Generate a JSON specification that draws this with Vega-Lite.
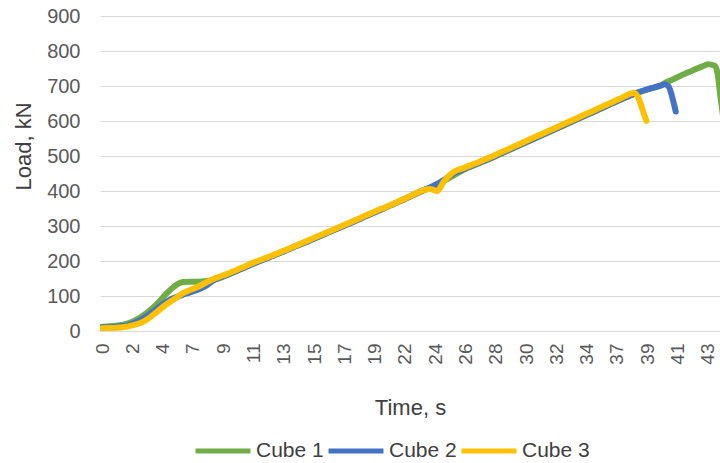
{
  "$schema": "https://vega.github.io/schema/vega-lite/v6.json",
  "width": 620,
  "height": 315,
  "autosize": "none",
  "padding": {"left": 100, "top": 16, "right": 0, "bottom": 132},
  "background": "white",
  "config": {"view": {"stroke": null}, "font": "Liberation Sans"},
  "data": {
    "values": [
      {"series": "Cube 1", "t": 0, "load": 12}, {"series": "Cube 1", "t": 1, "load": 15}, {"series": "Cube 1", "t": 1.8, "load": 21}, {"series": "Cube 1", "t": 2.7, "load": 38}, {"series": "Cube 1", "t": 3.3, "load": 55}, {"series": "Cube 1", "t": 3.9, "load": 76}, {"series": "Cube 1", "t": 4.4, "load": 98}, {"series": "Cube 1", "t": 4.9, "load": 118}, {"series": "Cube 1", "t": 5.4, "load": 134}, {"series": "Cube 1", "t": 5.8, "load": 140}, {"series": "Cube 1", "t": 6.3, "load": 141}, {"series": "Cube 1", "t": 6.8, "load": 141}, {"series": "Cube 1", "t": 7.4, "load": 142}, {"series": "Cube 1", "t": 8, "load": 146}, {"series": "Cube 1", "t": 9, "load": 161}, {"series": "Cube 1", "t": 10, "load": 178}, {"series": "Cube 1", "t": 11, "load": 195}, {"series": "Cube 1", "t": 12, "load": 211}, {"series": "Cube 1", "t": 13, "load": 227}, {"series": "Cube 1", "t": 14, "load": 244}, {"series": "Cube 1", "t": 15, "load": 261}, {"series": "Cube 1", "t": 16, "load": 278}, {"series": "Cube 1", "t": 17, "load": 295}, {"series": "Cube 1", "t": 18, "load": 312}, {"series": "Cube 1", "t": 19, "load": 330}, {"series": "Cube 1", "t": 20, "load": 347}, {"series": "Cube 1", "t": 21, "load": 365}, {"series": "Cube 1", "t": 22, "load": 383}, {"series": "Cube 1", "t": 23, "load": 401}, {"series": "Cube 1", "t": 24, "load": 418}, {"series": "Cube 1", "t": 25, "load": 440}, {"series": "Cube 1", "t": 26, "load": 463}, {"series": "Cube 1", "t": 27, "load": 479}, {"series": "Cube 1", "t": 28, "load": 496}, {"series": "Cube 1", "t": 29, "load": 514}, {"series": "Cube 1", "t": 30, "load": 532}, {"series": "Cube 1", "t": 31, "load": 550}, {"series": "Cube 1", "t": 32, "load": 568}, {"series": "Cube 1", "t": 33, "load": 586}, {"series": "Cube 1", "t": 34, "load": 604}, {"series": "Cube 1", "t": 35, "load": 622}, {"series": "Cube 1", "t": 36, "load": 640}, {"series": "Cube 1", "t": 37, "load": 658}, {"series": "Cube 1", "t": 38, "load": 675}, {"series": "Cube 1", "t": 39, "load": 689}, {"series": "Cube 1", "t": 40, "load": 701}, {"series": "Cube 1", "t": 40.5, "load": 712}, {"series": "Cube 1", "t": 41, "load": 721}, {"series": "Cube 1", "t": 42, "load": 739}, {"series": "Cube 1", "t": 43, "load": 756}, {"series": "Cube 1", "t": 43.4, "load": 762}, {"series": "Cube 1", "t": 43.9, "load": 758}, {"series": "Cube 1", "t": 44.1, "load": 735}, {"series": "Cube 1", "t": 44.3, "load": 670}, {"series": "Cube 1", "t": 44.5, "load": 610},
      {"series": "Cube 2", "t": 0, "load": 10}, {"series": "Cube 2", "t": 1, "load": 12}, {"series": "Cube 2", "t": 1.8, "load": 16}, {"series": "Cube 2", "t": 2.7, "load": 30}, {"series": "Cube 2", "t": 3.3, "load": 45}, {"series": "Cube 2", "t": 3.9, "load": 63}, {"series": "Cube 2", "t": 4.4, "load": 78}, {"series": "Cube 2", "t": 4.9, "load": 90}, {"series": "Cube 2", "t": 5.4, "load": 98}, {"series": "Cube 2", "t": 5.8, "load": 104}, {"series": "Cube 2", "t": 6.3, "load": 110}, {"series": "Cube 2", "t": 6.8, "load": 117}, {"series": "Cube 2", "t": 7.4, "load": 128}, {"series": "Cube 2", "t": 8, "load": 145}, {"series": "Cube 2", "t": 9, "load": 161}, {"series": "Cube 2", "t": 10, "load": 178}, {"series": "Cube 2", "t": 11, "load": 195}, {"series": "Cube 2", "t": 12, "load": 211}, {"series": "Cube 2", "t": 13, "load": 227}, {"series": "Cube 2", "t": 14, "load": 244}, {"series": "Cube 2", "t": 15, "load": 261}, {"series": "Cube 2", "t": 16, "load": 278}, {"series": "Cube 2", "t": 17, "load": 295}, {"series": "Cube 2", "t": 18, "load": 312}, {"series": "Cube 2", "t": 19, "load": 330}, {"series": "Cube 2", "t": 20, "load": 347}, {"series": "Cube 2", "t": 21, "load": 365}, {"series": "Cube 2", "t": 22, "load": 383}, {"series": "Cube 2", "t": 23, "load": 402}, {"series": "Cube 2", "t": 23.5, "load": 410}, {"series": "Cube 2", "t": 24, "load": 420}, {"series": "Cube 2", "t": 24.5, "load": 432}, {"series": "Cube 2", "t": 25.1, "load": 448}, {"series": "Cube 2", "t": 26, "load": 464}, {"series": "Cube 2", "t": 27, "load": 480}, {"series": "Cube 2", "t": 28, "load": 497}, {"series": "Cube 2", "t": 29, "load": 515}, {"series": "Cube 2", "t": 30, "load": 533}, {"series": "Cube 2", "t": 31, "load": 551}, {"series": "Cube 2", "t": 32, "load": 569}, {"series": "Cube 2", "t": 33, "load": 587}, {"series": "Cube 2", "t": 34, "load": 605}, {"series": "Cube 2", "t": 35, "load": 623}, {"series": "Cube 2", "t": 36, "load": 641}, {"series": "Cube 2", "t": 37, "load": 659}, {"series": "Cube 2", "t": 38, "load": 676}, {"series": "Cube 2", "t": 39, "load": 690}, {"series": "Cube 2", "t": 40, "load": 701}, {"series": "Cube 2", "t": 40.3, "load": 705}, {"series": "Cube 2", "t": 40.6, "load": 698}, {"series": "Cube 2", "t": 40.9, "load": 660}, {"series": "Cube 2", "t": 41.1, "load": 627},
      {"series": "Cube 3", "t": 0, "load": 8}, {"series": "Cube 3", "t": 1, "load": 9}, {"series": "Cube 3", "t": 1.8, "load": 13}, {"series": "Cube 3", "t": 2.7, "load": 22}, {"series": "Cube 3", "t": 3.3, "load": 35}, {"series": "Cube 3", "t": 3.9, "load": 54}, {"series": "Cube 3", "t": 4.4, "load": 70}, {"series": "Cube 3", "t": 4.9, "load": 84}, {"series": "Cube 3", "t": 5.4, "load": 97}, {"series": "Cube 3", "t": 5.8, "load": 108}, {"series": "Cube 3", "t": 6.3, "load": 117}, {"series": "Cube 3", "t": 6.8, "load": 125}, {"series": "Cube 3", "t": 7.4, "load": 137}, {"series": "Cube 3", "t": 8, "load": 149}, {"series": "Cube 3", "t": 9, "load": 164}, {"series": "Cube 3", "t": 10, "load": 181}, {"series": "Cube 3", "t": 11, "load": 198}, {"series": "Cube 3", "t": 12, "load": 213}, {"series": "Cube 3", "t": 13, "load": 229}, {"series": "Cube 3", "t": 14, "load": 246}, {"series": "Cube 3", "t": 15, "load": 263}, {"series": "Cube 3", "t": 16, "load": 280}, {"series": "Cube 3", "t": 17, "load": 297}, {"series": "Cube 3", "t": 18, "load": 314}, {"series": "Cube 3", "t": 19, "load": 332}, {"series": "Cube 3", "t": 20, "load": 349}, {"series": "Cube 3", "t": 21, "load": 366}, {"series": "Cube 3", "t": 22, "load": 384}, {"series": "Cube 3", "t": 23, "load": 402}, {"series": "Cube 3", "t": 23.5, "load": 406}, {"series": "Cube 3", "t": 24, "load": 400}, {"series": "Cube 3", "t": 24.5, "load": 428}, {"series": "Cube 3", "t": 25.1, "load": 452}, {"series": "Cube 3", "t": 26, "load": 467}, {"series": "Cube 3", "t": 27, "load": 483}, {"series": "Cube 3", "t": 28, "load": 500}, {"series": "Cube 3", "t": 29, "load": 518}, {"series": "Cube 3", "t": 30, "load": 536}, {"series": "Cube 3", "t": 31, "load": 554}, {"series": "Cube 3", "t": 32, "load": 572}, {"series": "Cube 3", "t": 33, "load": 590}, {"series": "Cube 3", "t": 34, "load": 608}, {"series": "Cube 3", "t": 35, "load": 626}, {"series": "Cube 3", "t": 36, "load": 644}, {"series": "Cube 3", "t": 37, "load": 662}, {"series": "Cube 3", "t": 37.8, "load": 677}, {"series": "Cube 3", "t": 38.1, "load": 681}, {"series": "Cube 3", "t": 38.4, "load": 668}, {"series": "Cube 3", "t": 38.7, "load": 635}, {"series": "Cube 3", "t": 39.0, "load": 600}
    ]
  },
  "mark": {"type": "line", "strokeWidth": 6, "interpolate": "monotone", "clip": true, "strokeCap": "round", "strokeJoin": "round"},
  "encoding": {
    "x": {
      "field": "t",
      "type": "quantitative",
      "scale": {"domain": [-0.15, 44.27], "nice": false, "zero": false},
      "axis": {
        "title": "Time, s",
        "values": [0, 2.17, 4.34, 6.51, 8.68, 10.85, 13.02, 15.19, 17.36, 19.53, 21.7, 23.87, 26.04, 28.21, 30.38, 32.55, 34.72, 36.89, 39.06, 41.23, 43.4],
        "labelExpr": "['0','2','4','7','9','11','13','15','17','19','22','24','26','28','30','32','34','37','39','41','43'][round(datum.value/2.17)]",
        "labelAngle": -90,
        "labelFontSize": 19,
        "labelColor": "#595959",
        "labelPadding": 12,
        "labelOverlap": false,
        "labelFlush": false,
        "ticks": false,
        "grid": false,
        "domainColor": "#d9d9d9",
        "domainWidth": 1,
        "titleFontSize": 22,
        "titleFontWeight": "normal",
        "titleColor": "#404040",
        "titleY": 83,
        "titleBaseline": "alphabetic"
      }
    },
    "y": {
      "field": "load",
      "type": "quantitative",
      "scale": {"domain": [0, 900], "nice": false},
      "axis": {
        "title": "Load, kN",
        "values": [0, 100, 200, 300, 400, 500, 600, 700, 800, 900],
        "labelFontSize": 20,
        "labelColor": "#595959",
        "labelPadding": 20,
        "ticks": false,
        "domain": false,
        "gridColor": "#d9d9d9",
        "gridWidth": 1,
        "titleFontSize": 22,
        "titleFontWeight": "normal",
        "titleColor": "#404040",
        "titleAngle": -90,
        "titleX": -70,
        "titleY": 130,
        "titleAlign": "center",
        "titleBaseline": "alphabetic"
      }
    },
    "color": {
      "field": "series",
      "type": "nominal",
      "scale": {"domain": ["Cube 1", "Cube 2", "Cube 3"], "range": ["#70AD47", "#4472C4", "#FFC000"]},
      "legend": {
        "title": null,
        "orient": "none",
        "direction": "horizontal",
        "legendX": 93,
        "legendY": 405,
        "symbolType": "stroke",
        "symbolSize": 3025,
        "symbolStrokeWidth": 5,
        "labelFontSize": 21,
        "labelColor": "#404040",
        "labelOffset": 3,
        "columnPadding": -6
      }
    }
  }
}
